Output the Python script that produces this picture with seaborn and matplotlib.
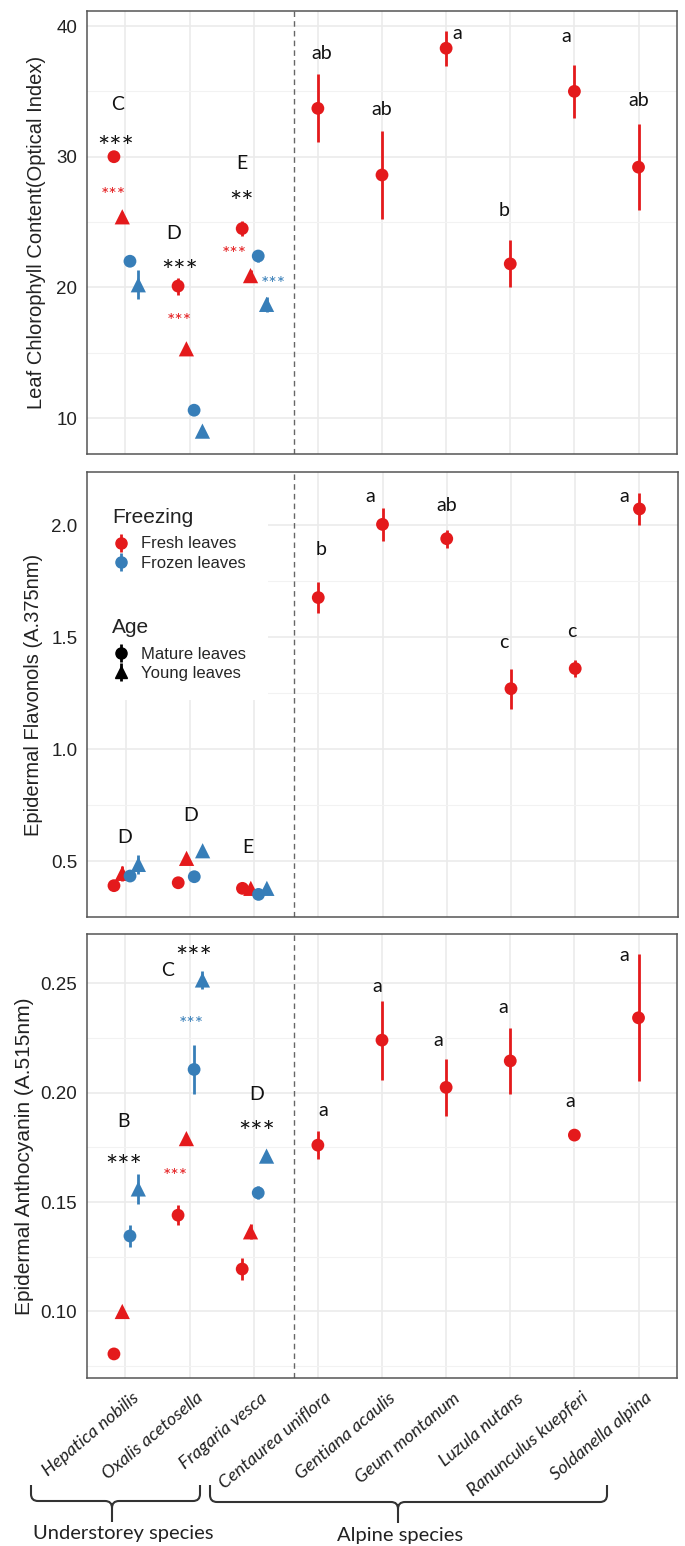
import numpy as np
import pandas as pd
import matplotlib.pyplot as plt
import seaborn as sns
from matplotlib.lines import Line2D
from matplotlib.path import Path
from matplotlib.patches import PathPatch, Rectangle
from matplotlib.ticker import MultipleLocator, FormatStrFormatter
from matplotlib.transforms import ScaledTranslation

# species on the x axis
understorey = ['Hepatica nobilis', 'Oxalis acetosella', 'Fragaria vesca']
alpine = ['Centaurea uniflora', 'Gentiana acaulis', 'Geum montanum', 'Luzula nutans',
          'Ranunculus kuepferi', 'Soldanella alpina']
species = understorey + alpine

# the four understorey groups (fresh/frozen x mature/young)
freezing = ['Fresh leaves', 'Fresh leaves', 'Frozen leaves', 'Frozen leaves']
age = ['Mature leaves', 'Young leaves', 'Mature leaves', 'Young leaves']

# chlorophyll (optical index): mean and se, understorey rows = species, cols = groups
chl_under = [[30.0, 25.4, 22.0, 20.2], [20.1, 15.3, 10.6, 9.0], [24.5, 20.9, 22.4, 18.7]]
chl_under_se = [[0.3, 0.4, 0.3, 1.1], [0.65, 0.3, 0.2, 0.2], [0.6, 0.45, 0.45, 0.55]]
chl_alp = [33.7, 28.6, 38.3, 21.8, 35.0, 29.2]
chl_alp_se = [2.6, 3.4, 1.35, 1.8, 2.0, 3.3]

# flavonols (A.375nm)
flav_under = [[0.39, 0.445, 0.433, 0.485], [0.403, 0.512, 0.43, 0.546], [0.378, 0.378, 0.351, 0.378]]
flav_under_se = [[0.01, 0.035, 0.01, 0.043], [0.01, 0.01, 0.01, 0.01], [0.005, 0.01, 0.01, 0.01]]
flav_alp = [1.677, 2.004, 1.94, 1.27, 1.36, 2.073]
flav_alp_se = [0.07, 0.075, 0.04, 0.09, 0.04, 0.073]

# anthocyanin (A.515nm)
anth_under = [[0.0806, 0.100, 0.1345, 0.156], [0.144, 0.179, 0.2106, 0.2515], [0.1194, 0.1364, 0.1542, 0.171]]
anth_under_se = [[0.001, 0.001, 0.005, 0.007], [0.0045, 0.001, 0.011, 0.004], [0.005, 0.0035, 0.003, 0.001]]
anth_alp = [0.176, 0.224, 0.2024, 0.2145, 0.1806, 0.2342]
anth_alp_se = [0.0065, 0.018, 0.013, 0.015, 0.001, 0.029]

# significance letters for alpine species
chl_letters = ['ab', 'ab', 'a', 'b', 'a', 'ab']
flav_letters = ['b', 'a', 'ab', 'c', 'c', 'a']
anth_letters = ['a', 'a', 'a', 'a', 'a', 'a']

red = '#E41A1C'
blue = '#377EB8'
ink = '#111111'
palette = {'Fresh leaves': red, 'Frozen leaves': blue}
markers = {'Mature leaves': 'o', 'Young leaves': '^'}
msizes = {'Mature leaves': 85, 'Young leaves': 120}
dodge = [-0.18, -0.05, 0.07, 0.2]

sns.set_style('white')
plt.rcParams['font.family'] = ['Liberation Sans', 'DejaVu Sans']
txt_font = 'Lato'


def make_df(under, under_se, alp, alp_se):
    rows = []
    for i, sp in enumerate(understorey):
        for j in range(4):
            rows.append(dict(species=sp, x=i + dodge[j], y=under[i][j], se=under_se[i][j],
                             Freezing=freezing[j], Age=age[j]))
    for k, sp in enumerate(alpine):
        rows.append(dict(species=sp, x=len(understorey) + k, y=alp[k], se=alp_se[k],
                         Freezing='Fresh leaves', Age='Mature leaves'))
    return pd.DataFrame(rows)


def draw_panel(ax, df, ylim, major, fmt, ylabel, label_x, label_size):
    ax.vlines(df['x'], df['y'] - df['se'], df['y'] + df['se'],
              colors=df['Freezing'].map(palette), lw=2, zorder=3)
    sns.scatterplot(data=df, x='x', y='y', hue='Freezing', style='Age', size='Age', palette=palette,
                    markers=markers, sizes=msizes, linewidth=0, legend=False, ax=ax, zorder=4)
    ax.axvline(2.62, color='#666666', ls=(0, (4, 3)), lw=1, zorder=2)
    ax.set_xlim(-0.6, 8.6)
    ax.set_ylim(*ylim)
    ax.set_xticks(range(len(species)))
    ax.yaxis.set_major_locator(MultipleLocator(major))
    ax.yaxis.set_minor_locator(MultipleLocator(major / 2))
    ax.yaxis.set_major_formatter(FormatStrFormatter(fmt))
    ax.grid(which='major', color='#EBEBEB', lw=1.2, zorder=0)
    ax.grid(which='minor', axis='y', color='#F2F2F2', lw=0.8, zorder=0)
    ax.set_axisbelow(True)
    ax.tick_params(which='major', length=4, width=1, color='#333333', labelsize=13.5,
                   labelcolor='#222222', pad=3)
    ax.tick_params(which='minor', length=0)
    for s in ax.spines.values():
        s.set_color('#555555')
        s.set_linewidth(1.1)
    ax.set_xlabel('')
    ax.set_ylabel(ylabel, fontsize=label_size, color='#222222')
    ax.yaxis.set_label_coords(label_x, 0.5)


def letters(ax, labels, offsets, ys):
    for k, (lab, dx, y) in enumerate(zip(labels, offsets, ys)):
        ax.text(len(understorey) + k + dx, y, lab, ha='center', va='center',
                fontsize=14, family=txt_font, color=ink)


def notes(ax, items):
    for lab, x, y, col in items:
        if lab.isalpha():
            size = 14
        else:
            size = 21 if col == ink else 14
        ax.text(x, y, lab, ha='center', va='center', fontsize=size, family=txt_font, color=col)


fig = plt.figure(figsize=(6.85, 15.46), dpi=100)
W, H = 685, 1546


def px_axes(l, t, r, b):
    return fig.add_axes([l / W, 1 - b / H, (r - l) / W, (b - t) / H])


ax1 = px_axes(87, 11, 677, 454)
ax2 = px_axes(87, 472, 678, 917)
ax3 = px_axes(87, 934, 677, 1378)

# top panel: chlorophyll
draw_panel(ax1, make_df(chl_under, chl_under_se, chl_alp, chl_alp_se), (7.25, 41.15), 10, '%d',
           'Leaf Chlorophyll Content(Optical Index)', -0.069, 14.5)
letters(ax1, chl_letters, [0.06, 0, 0.17, -0.1, -0.13, 0], [37.9, 33.6, 39.4, 25.9, 39.2, 34.3])
notes(ax1, [('C', -0.12, 34.0, ink), ('***', -0.16, 30.6, ink), ('***', -0.19, 27.0, red),
            ('D', 0.75, 24.1, ink), ('***', 0.84, 21.1, ink), ('***', 0.84, 17.4, red),
            ('E', 1.81, 29.5, ink), ('**', 1.81, 26.4, ink), ('***', 1.69, 22.5, red),
            ('***', 2.31, 20.2, blue)])
ax1.tick_params(axis='x', labelbottom=False)

# middle panel: flavonols
draw_panel(ax2, make_df(flav_under, flav_under_se, flav_alp, flav_alp_se), (0.25, 2.238), 0.5, '%.1f',
           'Epidermal Flavonols (A.375nm)', -0.074, 14.5)
letters(ax2, flav_letters, [0.05, -0.19, 0, -0.11, -0.06, -0.23], [1.89, 2.13, 2.09, 1.475, 1.524, 2.13])
notes(ax2, [('D', -0.02, 0.604, ink), ('D', 1.02, 0.705, ink), ('E', 1.9, 0.56, ink)])
ax2.tick_params(axis='x', labelbottom=False)

# legend block with white background
ax2.add_patch(Rectangle((0, 0.488), 0.306, 0.512, transform=ax2.transAxes, fc='white', ec='none', zorder=1))
fz_handles = [(Line2D([], [], color=c, marker='|', ms=13, mew=2, ls=''),
               Line2D([], [], color=c, marker='o', ms=8, ls='')) for c in (red, blue)]
age_handles = [(Line2D([], [], color='black', marker='|', ms=13, mew=2, ls=''),
                Line2D([], [], color='black', marker=m, ms=8, ls='')) for m in ('o', '^')]
leg_kw = dict(loc='center left', frameon=False, fontsize=12, handlelength=1.2,
              handletextpad=0.6, labelspacing=0.25, borderpad=0, borderaxespad=0)
leg1 = ax2.legend(fz_handles, ['Fresh leaves', 'Frozen leaves'], bbox_to_anchor=(0.0406, 0.817), **leg_kw)
ax2.add_artist(leg1)
ax2.legend(age_handles, ['Mature leaves', 'Young leaves'], bbox_to_anchor=(0.0406, 0.5685), **leg_kw)
ax2.text(0.042, 0.885, 'Freezing', transform=ax2.transAxes, fontsize=15, color='#222222', va='baseline')
ax2.text(0.042, 0.638, 'Age', transform=ax2.transAxes, fontsize=15, color='#222222', va='baseline')

# bottom panel: anthocyanin
draw_panel(ax3, make_df(anth_under, anth_under_se, anth_alp, anth_alp_se), (0.0696, 0.2725), 0.05, '%.2f',
           'Epidermal Anthocyanin (A.515nm)', -0.089, 15)
letters(ax3, anth_letters, [0.08, -0.08, -0.13, -0.11, -0.06, -0.23], [0.1917, 0.2485, 0.224, 0.2388, 0.196, 0.2626])
notes(ax3, [('B', -0.03, 0.1868, ink), ('***', -0.03, 0.1655, ink),
            ('C', 0.66, 0.256, ink), ('***', 1.06, 0.2613, ink),
            ('***', 1.02, 0.2310, blue), ('***', 0.77, 0.1618, red),
            ('D', 2.05, 0.1992, ink), ('***', 2.05, 0.181, ink)])
ax3.set_xticklabels(species, rotation=40, ha='right', va='top', rotation_mode='anchor',
                    fontsize=13, family=txt_font, style='italic', color='#222222')
shift = ScaledTranslation(6 / 100, -2 / 100, fig.dpi_scale_trans)
for lab in ax3.get_xticklabels():
    lab.set_transform(lab.get_transform() + shift)

# braces grouping the species
over = fig.add_axes([0, 0, 1, 1])
over.set_xlim(0, W)
over.set_ylim(H, 0)
over.axis('off')


def brace(xl, xr, xc, y0, y1, y2, r=7):
    verts = [(xl, y0), (xl, y1 - r), (xl, y1), (xl + r, y1), (xc - r, y1), (xc, y1), (xc, y1 + r), (xc, y2),
             (xc, y1 + r), (xc, y1), (xc + r, y1), (xr - r, y1), (xr, y1), (xr, y1 - r), (xr, y0)]
    codes = [Path.MOVETO, Path.LINETO, Path.CURVE3, Path.CURVE3, Path.LINETO, Path.CURVE3, Path.CURVE3,
             Path.LINETO, Path.MOVETO, Path.CURVE3, Path.CURVE3, Path.LINETO, Path.CURVE3, Path.CURVE3,
             Path.LINETO]
    over.add_patch(PathPatch(Path(verts, codes), fill=False, lw=1.5, ec='#333333'))


brace(31, 200, 112, 1485, 1501, 1522)
brace(210, 607, 398, 1485, 1502, 1523)
over.text(123, 1534, 'Understorey species', ha='center', va='center', fontsize=14.5, family=txt_font, color='#222222')
over.text(400, 1535, 'Alpine species', ha='center', va='center', fontsize=14.5, family=txt_font, color='#222222')

fig.savefig('out.png', dpi=100)
